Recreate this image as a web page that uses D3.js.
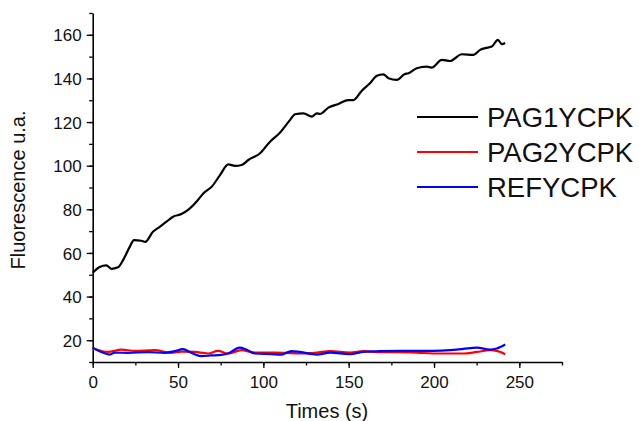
<!DOCTYPE html>
<html lang="en">

<head>
    <meta charset="UTF-8">
    <title>Fluorescence vs time</title>
    <script src="https://d3js.org/d3.v7.min.js"></script>
    <style type="text/css">
        body {
            margin: 0;
            background: #fff;
        }

        svg text {
            font-family: Arial, "Liberation Sans", sans-serif;
            fill: #111;
        }
    </style>
</head>

<body>
    <div id="chartArea"></div>
    <script type="text/javascript">
        // values (time in s, fluorescence u.a.)
        var pag1Time = [0, 4.1, 8, 10.9, 14.8, 17.8, 21.7, 24.2, 28.5, 30.8, 35.3, 39.3, 43.2, 47.1, 52, 55.9, 61.3,
            64.8, 69.8, 74.6, 79.5, 83.4, 87.3, 91.2, 98.1, 103.9, 109.4, 115.7, 118.6, 123.5, 128.4, 131.3, 133.2,
            138.1, 144, 149.8, 152.8, 157.7, 162.5, 166.5, 170.3, 173.3, 178.2, 182.7, 185, 189.9, 195.8, 198.7,
            204.6, 209.4, 216.3, 223.1, 227, 230, 233.9, 237.4, 239.8, 241.7];
        var pag1Val = [50.9, 53.6, 54.3, 52.7, 53.4, 56.7, 62.8, 65.9, 65.6, 65.1, 69.7, 72, 74.3, 76.6, 77.8, 79.7, 83.9,
            87.3, 90.4, 95.7, 100.6, 99.9, 100.3, 102.6, 105.7, 111, 114.9, 121, 123.6, 124, 122.5, 124, 123.7,
            126.6, 128.3, 130.1, 130.1, 134.4, 137.8, 141.2, 141.9, 140.1, 139.3, 141.9, 142.4, 144.7, 145.4, 145,
            148.5, 148, 151.1, 150.8, 153.1, 153.9, 154.6, 157.7, 155.7, 156.2];

        var pag2Time = [0, 9, 16.8, 24.6, 36.3, 46.1, 51.9, 59.8, 67.6, 73.4, 79.3, 87.1, 95, 106.7, 112.5, 121.5,
            131.3, 139.1, 150.8, 158.6, 168.4, 180.1, 189.9, 199.6, 209.4, 217.2, 225.1, 232.9, 236.8, 241.7];
        var pag2Val = [16.3, 14.6, 15.7, 15.1, 15.4, 14.2, 14.8, 14.6, 13.9, 15.1, 13.9, 15.4, 14.3, 14.3, 14.2, 13.9,
            14.3, 15, 14.3, 15, 14.5, 14.5, 14.3, 13.9, 13.9, 13.9, 14.6, 15.4, 15.1, 13.6];

        var refTime = [0, 5, 10, 12.9, 20.7, 32.4, 42.2, 48.1, 52.9, 57.8, 63.7, 69.5, 75.4, 79.3, 86.2, 90, 95,
            104.7, 110.6, 116.4, 121.5, 131.3, 139.1, 150.8, 158.6, 168.4, 180.1, 189.9, 199.6, 209.4, 217.2,
            225.1, 232.9, 236.8, 241.7];
        var refVal = [16.6, 14.6, 13.4, 14.3, 14.2, 14.5, 14.2, 15, 15.9, 14.2, 12.7, 13, 13.3, 13.9, 16.6, 15.7, 13.9,
            13.6, 13.4, 15, 14.6, 13.4, 14.3, 13.6, 14.6, 15, 15.1, 15.1, 15.1, 15.4, 16, 16.6, 15.7, 16.2, 18];

        var seriesNames = ['PAG1YCPK', 'PAG2YCPK', 'REFYCPK'];
        var seriesColors = ['#000000', '#ff0000', '#0000ff'];
        var xTicks = [0, 50, 100, 150, 200, 250];
        var yTicks = [20, 40, 60, 80, 100, 120, 140, 160];

        var series = [
            { name: seriesNames[0], color: seriesColors[0], pts: d3.zip(pag1Time, pag1Val) },
            { name: seriesNames[1], color: seriesColors[1], pts: d3.zip(pag2Time, pag2Val) },
            { name: seriesNames[2], color: seriesColors[2], pts: d3.zip(refTime, refVal) }
        ];

        var W = 639, H = 421;
        var margin = { top: 13, right: 77, bottom: 59, left: 92.7 };
        var w = W - margin.left - margin.right,
            h = H - margin.top - margin.bottom;

        var svg = d3.select('#chartArea').append('svg')
            .attr('width', W)
            .attr('height', H);

        var g = svg.append('g')
            .attr('transform', 'translate(' + margin.left + ',' + margin.top + ')');

        var xScale = d3.scaleLinear().domain([0, 275]).range([0, w]);
        var yScale = d3.scaleLinear().domain([10, 170]).range([h, 0]);

        // minor ticks first, then major axes with labels
        g.append('g')
            .attr('transform', 'translate(0,' + h + ')')
            .call(d3.axisBottom(xScale).tickValues(d3.range(0, 276, 25)).tickSize(3.5).tickFormat(''))
            .call(function (a) { a.select('.domain').remove(); });
        g.append('g')
            .call(d3.axisLeft(yScale).tickValues(d3.range(10, 171, 10)).tickSize(3.5).tickFormat(''))
            .call(function (a) { a.select('.domain').remove(); });

        var xAxis = g.append('g')
            .attr('transform', 'translate(0,' + h + ')')
            .call(d3.axisBottom(xScale).tickValues(xTicks).tickSize(6).tickSizeOuter(0).tickPadding(8));
        var yAxis = g.append('g')
            .call(d3.axisLeft(yScale).tickValues(yTicks).tickSize(6).tickSizeOuter(0).tickPadding(5));

        g.selectAll('.tick line').attr('stroke', '#000').attr('stroke-width', 1.3);
        g.selectAll('.domain').attr('stroke', '#000').attr('stroke-width', 1.6);
        g.selectAll('.tick text').style('font-size', '17px').attr('fill', '#111');
        yAxis.selectAll('.tick text').attr('dy', '0.36em');

        var line = d3.line()
            .x(function (d) { return xScale(d[0]); })
            .y(function (d) { return yScale(d[1]); })
            .curve(d3.curveMonotoneX);

        series.forEach(function (s) {
            g.append('path')
                .datum(s.pts)
                .attr('fill', 'none')
                .attr('stroke', s.color)
                .attr('stroke-width', 2.2)
                .attr('d', line);
        });

        // axis titles
        svg.append('text')
            .attr('transform', 'translate(25,190) rotate(-90)')
            .attr('text-anchor', 'middle')
            .style('font-size', '20px')
            .text('Fluorescence u.a.');
        svg.append('text')
            .attr('x', 327)
            .attr('y', 418)
            .attr('text-anchor', 'middle')
            .style('font-size', '20px')
            .text('Times (s)');

        // legend
        var legend = svg.append('g').attr('transform', 'translate(417,117)');
        var rows = legend.selectAll('g')
            .data(series)
            .enter()
            .append('g')
            .attr('transform', function (d, i) { return 'translate(0,' + i * 35 + ')'; });
        rows.append('line')
            .attr('x1', 0).attr('x2', 61)
            .attr('stroke', function (d) { return d.color; })
            .attr('stroke-width', 2);
        rows.append('text')
            .attr('x', 70)
            .attr('y', 10)
            .style('font-size', '27.5px')
            .text(function (d) { return d.name; });
    </script>
</body>

</html>
